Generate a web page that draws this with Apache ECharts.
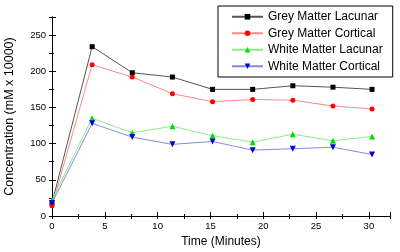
<!DOCTYPE html>
<html><head><meta charset="utf-8">
<script src="https://cdn.jsdelivr.net/npm/echarts@6/dist/echarts.min.js"></script>
<style>html,body{margin:0;padding:0;background:#fff}#c{width:400px;height:252px}</style>
</head><body><div id="c"></div>
<script>
const times = [0, 3.8, 7.6, 11.4, 15.2, 19, 22.8, 26.6, 30.3];
const greyLacunar = [18, 234, 198, 192, 175, 175, 180, 178, 175];
const greyCortical = [14, 209, 192, 169, 158, 161, 160, 152, 148];
const whiteLacunar = [22, 135, 115, 124, 111, 102, 113, 104, 110];
const whiteCortical = [18, 128, 109, 99, 103, 91, 93, 95, 85];
const seriesNames = ['Grey Matter Lacunar', 'Grey Matter Cortical', 'White Matter Lacunar', 'White Matter Cortical'];
const FONT = 'Liberation Sans, Arial, sans-serif';

function pairs(v){ return times.map((t,i)=>[t, v[i]]); }
function mk(name, data, sym, symColor, lineColor, size){
  return {name, type:'line', data:pairs(data), symbol:sym, symbolSize:size,
    itemStyle:{color:symColor}, lineStyle:{color:lineColor, width:1}, emphasis:{disabled:true}, animation:false};
}
const chart = echarts.init(document.getElementById('c'), null, {renderer:'canvas'});
chart.setOption({
  animation:false,
  grid:{left:52, right:10, top:17, bottom:36, containLabel:false, outerBoundsMode:'none'},
  legend:{
    orient:'vertical', left:218, top:6, data:seriesNames,
    backgroundColor:'#fff', borderColor:'#000', borderWidth:1,
    padding:[4,10,4,13], itemGap:3, itemWidth:31, itemHeight:7,
    textStyle:{fontFamily:FONT, fontSize:12, color:'#000', lineHeight:13.5}
  },
  xAxis:[
    {type:'value', min:0, max:32, interval:5, position:'bottom',
     name:'Time (Minutes)', nameLocation:'middle', nameGap:19,
     nameTextStyle:{fontFamily:FONT, fontSize:12, color:'#000'},
     axisLine:{lineStyle:{color:'#000', width:1}},
     axisTick:{inside:true, length:4, lineStyle:{color:'#000'}},
     minorTick:{show:true, splitNumber:2, length:2, lineStyle:{color:'#000'}},
     axisLabel:{fontFamily:FONT, fontSize:9.5, color:'#000', margin:5, showMaxLabel:false},
     splitLine:{show:false}},
    {type:'value', min:0, max:32, interval:2.5, position:'top',
     axisLine:{lineStyle:{color:'#000', width:1}},
     axisTick:{inside:true, length:3, lineStyle:{color:'#000'}},
     axisLabel:{show:false}, splitLine:{show:false}}
  ],
  yAxis:[
    {type:'value', min:0, max:275, interval:50, position:'left',
     name:'Concentration (mM x 10000)', nameLocation:'middle', nameGap:36,
     nameTextStyle:{fontFamily:FONT, fontSize:12.5, color:'#000'},
     axisLine:{show:true, lineStyle:{color:'#000', width:1}},
     axisTick:{show:true, inside:true, length:4, lineStyle:{color:'#000'}},
     minorTick:{show:true, splitNumber:2, length:2, lineStyle:{color:'#000'}},
     axisLabel:{fontFamily:FONT, fontSize:9.5, color:'#000', margin:6, showMaxLabel:false},
     splitLine:{show:false}},
    {type:'value', min:0, max:275, interval:25, position:'right',
     axisLine:{show:true, lineStyle:{color:'#000', width:1}},
     axisTick:{show:true, inside:true, length:3, lineStyle:{color:'#000'}},
     axisLabel:{show:false}, splitLine:{show:false}}
  ],
  series:[
    mk(seriesNames[0], greyLacunar, 'rect', '#000', '#555', 5),
    mk(seriesNames[1], greyCortical, 'circle', '#f00', '#f88', 5),
    mk(seriesNames[2], whiteLacunar, 'triangle', '#0d0', '#8e8', 6),
    mk(seriesNames[3], whiteCortical, 'path://M0,0 L10,0 L5,9 Z', '#00d', '#88d', 6)
  ]
});
</script></body></html>
